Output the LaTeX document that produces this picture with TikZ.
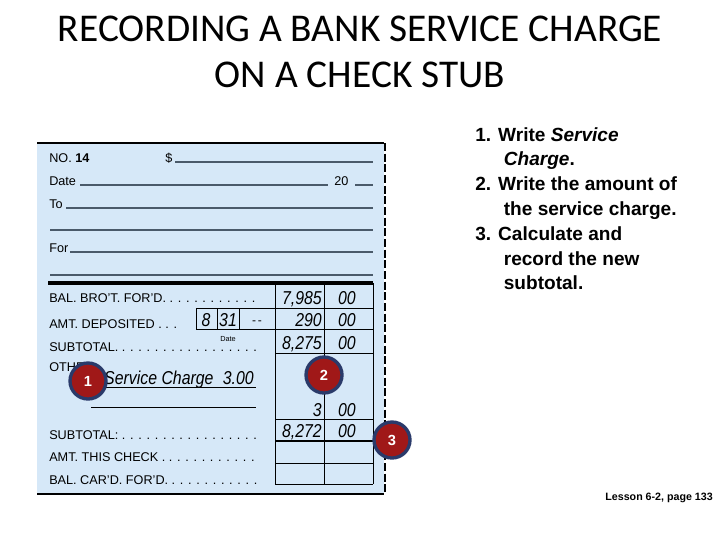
\documentclass[tikz,border=0pt]{standalone}
\usepackage{fontspec}
\setmainfont{Liberation Sans}
\newfontfamily\titlefont{Carlito}
\definecolor{stub}{HTML}{D6E8F8}
\definecolor{lin}{HTML}{4A5A6A}
\definecolor{badge}{HTML}{A01818}
\definecolor{ring}{HTML}{2A3A6A}
\begin{document}
\begin{tikzpicture}[x=0.75pt,y=-0.75pt,
 lab/.style={anchor=base west,font=\fontsize{9.5}{10}\selectfont,inner sep=0},
 hand/.style={anchor=base east,font=\fontsize{14}{14}\selectfont\itshape,inner sep=0,xscale=0.85},
 badge/.style={circle,fill=badge,draw=ring,line width=2.5pt,minimum size=27pt,inner sep=0,text=white,font=\bfseries\fontsize{11}{11}\selectfont},
 fl/.style={lin,line width=0.8pt},
 tl/.style={black,line width=0.6pt}]
\useasboundingbox (0,0) rectangle (720,540);
\node[font=\titlefont\fontsize{29.5}{35}\selectfont,align=center] (title) at (360,52) {RECORDING A BANK SERVICE CHARGE\\ON A CHECK STUB};
\fill[stub] (37,143) rectangle (384,494);
\draw[line width=1pt] (37,143) -- (384,143);
\draw[line width=1.2pt] (37,494) -- (384,494);
\draw[line width=1pt,dash pattern=on 6pt off 2pt] (385,143) -- (385,494);
% header
\node[lab] (no) at (49,162) {NO. \textbf{14}};
\node[lab] (dol) at (165,162) {\$};
\draw[fl] (175,162) -- (373,162);
\node[lab] (date) at (49,185) {Date};
\draw[fl] (80,185) -- (328,185);
\node[lab] (yr) at (334,185) {20};
\draw[fl] (355,185) -- (373,185);
\node[lab] (to) at (49,208) {To};
\draw[fl] (66,208) -- (373,208);
\draw[fl] (50,230) -- (373,230);
\node[lab] (for) at (49,252) {For};
\draw[fl] (70,252) -- (373,252);
\draw[fl] (50,275) -- (373,275);
\draw[line width=2.5pt] (48,283) -- (373,283);
% table
\draw[tl] (275,283) -- (275,484) (324,283) -- (324,484) (373,283) -- (373,484) (275,484) -- (373,484);
\draw[tl] (239,308) -- (373,308) (196,329) -- (373,329) (275,353) -- (373,353) (275,419) -- (373,419) (275,463) -- (373,463);
\draw[line width=1.3pt] (275,441) -- (373,441);
\draw[tl] (196,308) rectangle (275,329) (217,308) -- (217,329) (239,308) -- (239,329);
\node[hand,anchor=base] (d1) at (206,326) {8};
\node[hand,anchor=base] (d2) at (228,326) {31};
\node[anchor=base,inner sep=0,font=\fontsize{9}{9}\selectfont] (d3) at (257,324) {-\,-};
\node[inner sep=0,font=\fontsize{5.5}{5.5}\selectfont] (dl) at (228,339) {Date};
% labels
\node[lab] (bal) at (49,302) {BAL. BRO'T. FOR'D. . . . . . . . . . . .};
\node[lab] (dep) at (49,328) {AMT. DEPOSITED . . .};
\node[lab] (sub) at (49,351) {SUBTOTAL. . . . . . . . . . . . . . . . . .};
\node[lab] (oth) at (49,371) {OTHER};
\node[lab] (sub2) at (49,439) {SUBTOTAL: . . . . . . . . . . . . . . . . .};
\node[lab] (amt) at (49,461) {AMT. THIS CHECK . . . . . . . . . . . .};
\node[lab] (bcf) at (49,484) {BAL. CAR'D. FOR'D. . . . . . . . . . . .};
% amounts
\node[hand] (a1) at (322,304) {7,985}; \node[hand] (c1) at (356,304) {00};
\node[hand] (a2) at (322,326) {290}; \node[hand] (c2) at (356,326) {00};
\node[hand] (a3) at (322,349) {8,275}; \node[hand] (c3) at (356,349) {00};
\node[hand] (a4) at (322,416) {3}; \node[hand] (c4) at (356,416) {00};
\node[hand] (a5) at (322,437) {8,272}; \node[hand] (c5) at (356,437) {00};
% service charge
\node[hand,anchor=base west] (sc) at (104,384) {Service Charge};
\node[hand] (sca) at (254,384) {3.00};
\draw[tl] (100,387) -- (256,387);
\draw[tl] (91,407) -- (256,407);
% badges
\node[badge] (b1) at (88,381) {1};
\node[badge] (b2) at (324,375) {2};
\node[badge] (b3) at (392,440) {3};
% instructions
\node[anchor=north west,align=left,inner sep=0,font=\bfseries\fontsize{14.3}{18.6}\selectfont] (inst) at (475,127) {1. Write \textit{Service}\\\hspace{1.5em}\textit{Charge}.\\2. Write the amount of\\\hspace{1.5em}the service charge.\\3. Calculate and\\\hspace{1.5em}record the new\\\hspace{1.5em}subtotal.};
\node[anchor=base east,inner sep=0,font=\bfseries\fontsize{8}{8}\selectfont] (les) at (713,500) {Lesson 6-2, page 133};
\end{tikzpicture}
\end{document}
